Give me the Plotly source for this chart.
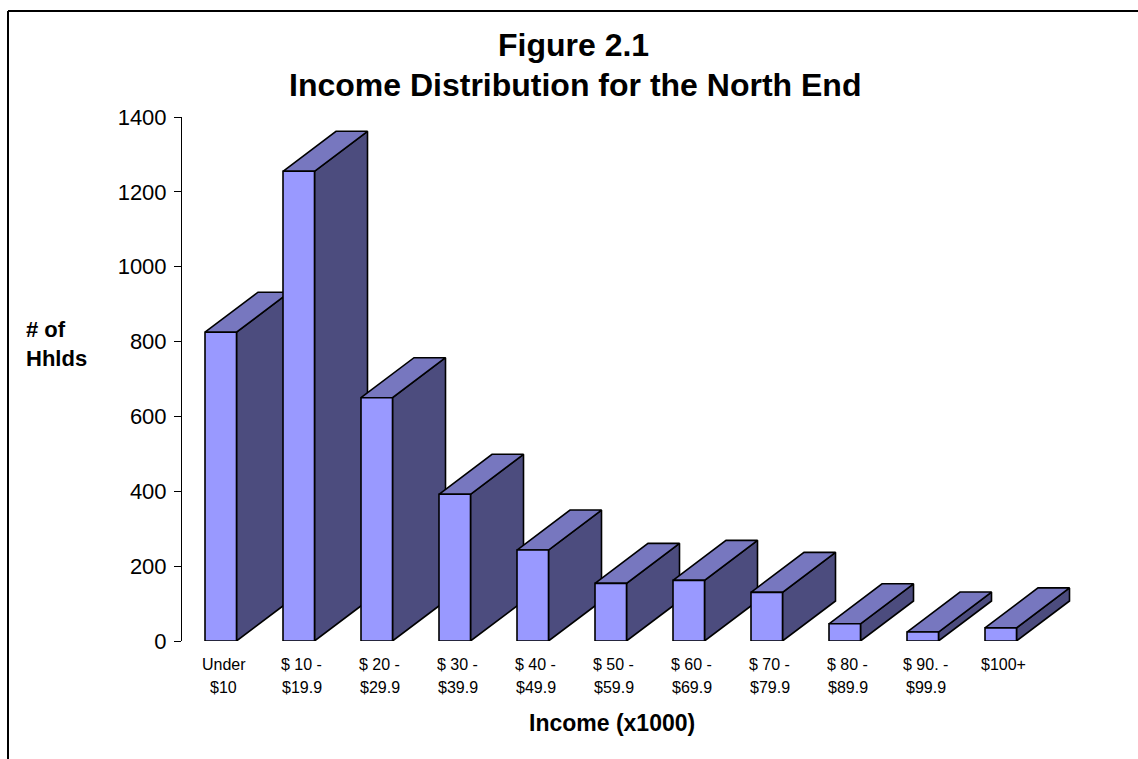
import plotly.graph_objects as go

# ---- data ----
categories_line1 = ["Under", "$ 10 -", "$ 20 -", "$ 30 -", "$ 40 -", "$ 50 -",
                    "$ 60 -", "$ 70 -", "$ 80 -", "$ 90. -", "$100+"]
categories_line2 = ["$10", "$19.9", "$29.9", "$39.9", "$49.9", "$59.9",
                    "$69.9", "$79.9", "$89.9", "$99.9", ""]
households = [825, 1255, 650, 392, 243, 154, 162, 130, 46, 24, 35]
y_ticks = [0, 200, 400, 600, 800, 1000, 1200, 1400]

# ---- layout geometry (pixels) ----
W, H = 1138, 759
ML, MR, MT, MB = 182, 40, 117, 118
PW = W - ML - MR
PH = H - MT - MB
STEP_PX = 78.0
XMAX = PW / STEP_PX
YMAX = 1400
px_per_unit_y = PH / YMAX

FRONT_OFF = (205 - ML) / STEP_PX
FRONT_W = 31.5 / STEP_PX
DEPTH_X = 53 / STEP_PX
DEPTH_Y = 40 / px_per_unit_y

FRONT_C = "#9999FF"
TOP_C = "#7777BF"
SIDE_C = "#4C4C7E"
EDGE = dict(color="black", width=1.6)

fig = go.Figure()

def poly(xs, ys, color):
    fig.add_trace(go.Scatter(
        x=xs + [xs[0]], y=ys + [ys[0]], mode="lines", fill="toself",
        fillcolor=color, line=EDGE, hoverinfo="skip", showlegend=False))

for i, v in enumerate(households):
    x0 = i + FRONT_OFF
    x1 = x0 + FRONT_W
    # side face
    poly([x1, x1 + DEPTH_X, x1 + DEPTH_X, x1], [0, DEPTH_Y, v + DEPTH_Y, v], SIDE_C)
    # top face
    poly([x0, x1, x1 + DEPTH_X, x0 + DEPTH_X], [v, v, v + DEPTH_Y, v + DEPTH_Y], TOP_C)
    # front face
    poly([x0, x1, x1, x0], [0, 0, v, v], FRONT_C)

annotations = []
for i, (l1, l2) in enumerate(zip(categories_line1, categories_line2)):
    xc = i + FRONT_OFF + FRONT_W / 2 + 3 / STEP_PX
    for txt, ypx in ((l1, 664), (l2, 687)):
        if txt:
            annotations.append(dict(
                x=xc, xref="x", y=(MT + PH - ypx) / PH, yref="paper",
                text=txt, showarrow=False, xanchor="center", yanchor="middle",
                font=dict(size=16, color="black")))

def px2paper(px, py):
    return (px - ML) / PW, (MT + PH - py) / PH

for txt, (cx, cy), size in (("Figure 2.1", (573, 45), 32),
                            ("Income Distribution for the North End", (575, 85), 32)):
    xp, yp = px2paper(cx, cy)
    annotations.append(dict(x=xp, y=yp, xref="paper", yref="paper", text="<b>" + txt + "</b>",
                            showarrow=False, xanchor="center", yanchor="middle",
                            font=dict(size=size, color="black")))

xp, yp = px2paper(612, 723)
annotations.append(dict(x=xp, y=yp, xref="paper", yref="paper", text="<b>Income (x1000)</b>",
                        showarrow=False, xanchor="center", yanchor="middle",
                        font=dict(size=23, color="black")))
xp, yp = px2paper(24, 344)
annotations.append(dict(x=xp, y=yp, xref="paper", yref="paper", text="<b># of<br>Hhlds</b>",
                        showarrow=False, xanchor="left", yanchor="middle", align="left",
                        font=dict(size=22, color="black")))

# frame lines (top and left)
fx0, fy0 = px2paper(8, 11)
fx1, _ = px2paper(1138, 11)
_, fyb = px2paper(8, 762)
shapes = [
    dict(type="line", xref="paper", yref="paper", x0=fx0, y0=fy0, x1=fx1, y1=fy0,
         line=dict(color="black", width=2)),
    dict(type="line", xref="paper", yref="paper", x0=fx0, y0=fy0, x1=fx0, y1=fyb,
         line=dict(color="black", width=2)),
]

fig.update_layout(
    width=W, height=H,
    margin=dict(l=ML, r=MR, t=MT, b=MB, pad=0),
    paper_bgcolor="white", plot_bgcolor="white",
    font=dict(family="Liberation Sans, Arial, sans-serif", color="black"),
    xaxis=dict(range=[0, XMAX], visible=False, fixedrange=True),
    yaxis=dict(range=[0, YMAX], tickvals=y_ticks, ticks="outside", ticklen=7,
               tickcolor="black", tickwidth=1, showline=True, linecolor="black",
               linewidth=1, showgrid=False, zeroline=False, ticklabelstandoff=3,
               tickfont=dict(size=22, color="black"), fixedrange=True),
    annotations=annotations,
    shapes=shapes,
    showlegend=False,
)

fig.write_html("out.html")
